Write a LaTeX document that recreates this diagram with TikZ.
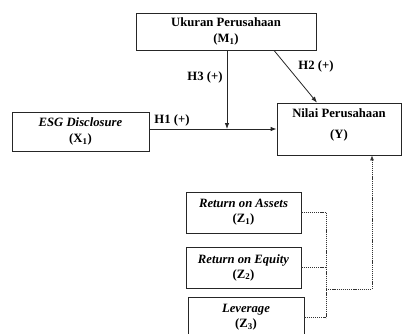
\documentclass[tikz,border=0pt]{standalone}
\usepackage{fontspec}
\setmainfont{Liberation Serif}
\usetikzlibrary{arrows.meta,calc}
\tikzset{
  boxst/.style={draw=black!85, line width=0.8pt, inner sep=0pt, align=center,
    font=\fontsize{12.7}{16}\selectfont\bfseries},
  txt/.style={inner sep=0pt, align=center, font=\fontsize{12.7}{16}\selectfont\bfseries},
  conn/.style={draw=black!85, line width=0.8pt, -{Latex[length=6pt,width=4.5pt]}},
  plain/.style={draw=black!85, line width=0.8pt},
  dotl/.style={draw=black!80, line width=0.7pt, dash pattern=on 1.2pt off 0.9pt},
}
\begin{document}
\begin{tikzpicture}[x=1pt,y=-1pt]
\useasboundingbox (0,0) rectangle (402,333);
% boxes
\node[boxst, minimum width=180pt, minimum height=37pt] (M) at (226,31.5)
  {Ukuran Perusahaan\\(M\textsubscript{1})};
\node[boxst, minimum width=137pt, minimum height=39pt] (X) at (80.5,131.5)
  {\textit{ESG Disclosure}\\(X\textsubscript{1})};
\node[boxst, minimum width=124pt, minimum height=52pt] (Y) at (339,129) {};
\node[txt, font=\fontsize{12.7}{21}\selectfont\bfseries] (Yt) at (339,124.5)
  {Nilai Perusahaan\\(Y)};
\node[boxst, minimum width=115pt, minimum height=41pt, font=\fontsize{12.7}{15}\selectfont\bfseries] (Z1) at (243.5,212.5)
  {\textit{Return on Assets}\\(Z\textsubscript{1})};
\node[boxst, minimum width=115pt, minimum height=41pt, font=\fontsize{12.7}{15}\selectfont\bfseries] (Z2) at (243.5,267.5)
  {\textit{Return on Equity}\\(Z\textsubscript{2})};
\node[boxst, minimum width=116pt, minimum height=41pt, font=\fontsize{12.7}{15}\selectfont\bfseries] (Z3) at (246,317.5)
  {\textit{Leverage}\\(Z\textsubscript{3})};
% junction
\coordinate (j) at (227,129);
\coordinate (bus) at (326,289);
\coordinate (ytarget) at ([xshift=33pt]Y.south);
% connectors
\draw[conn] (X.east |- j) -- (Y.west |- j);
\draw[conn] (M.south -| j) -- (j);
\draw[conn] ([xshift=48pt]M.south) -- ([xshift=-22pt]Y.north);
% dotted
\draw[dotl] (Z1.east) -- (Z1.east -| bus);
\draw[dotl] (Z2.east) -- (Z2.east -| bus);
\draw[dotl] (Z3.east) -- (Z3.east -| bus);
\draw[dotl] (Z1.east -| bus) -- (Z3.east -| bus);
\draw[dotl, -{Latex[length=5pt,width=4pt]}] (bus) -- (bus -| ytarget) -- (ytarget);
% labels
\node[txt] (h1) at (172,120) {H1 (+)};
\node[txt] (h3) at (205,77) {H3 (+)};
\node[txt] (h2) at (316,66) {H2 (+)};
\end{tikzpicture}
\end{document}
